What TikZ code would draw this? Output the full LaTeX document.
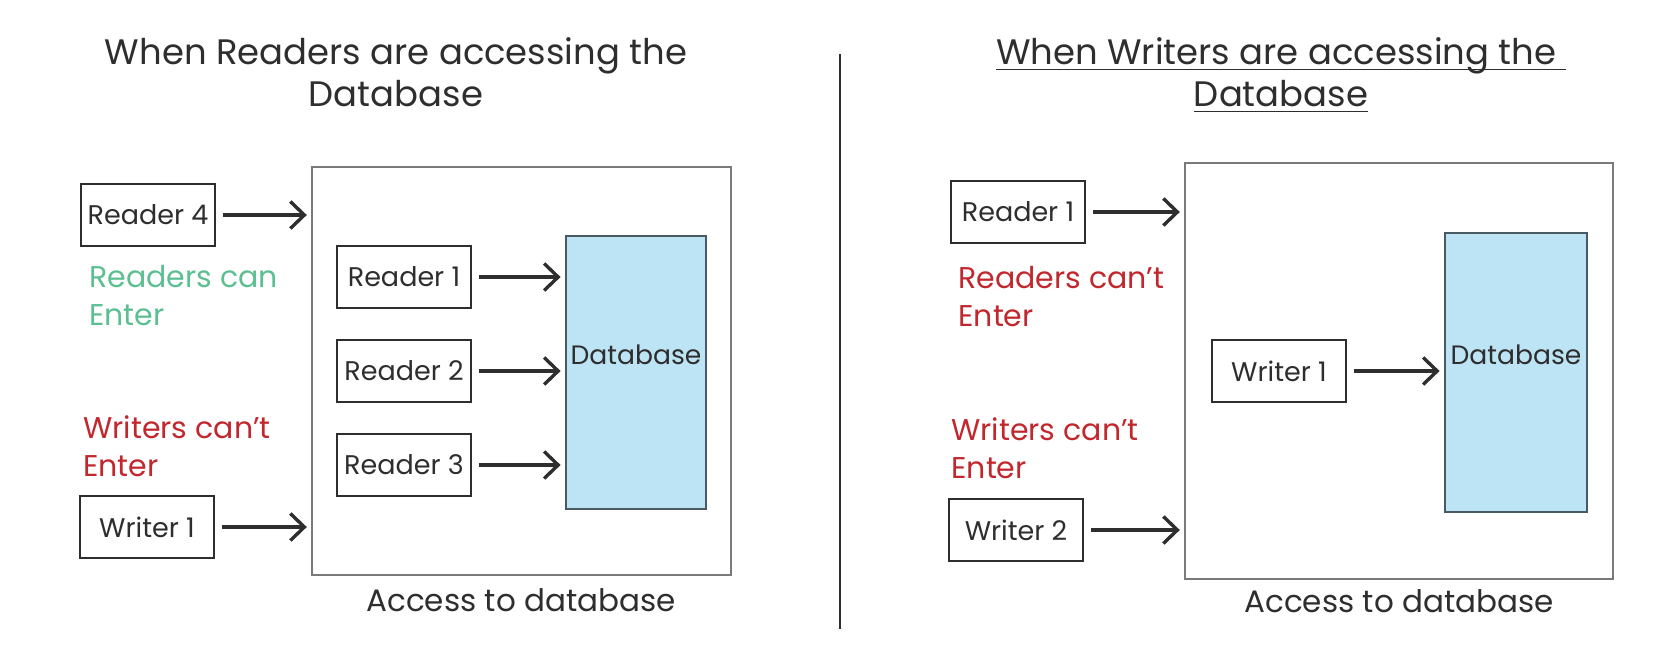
\documentclass[tikz,border=0pt]{standalone}
\usepackage{fontspec}
\setmainfont{Poppins}
\usetikzlibrary{arrows.meta}
\definecolor{ink}{HTML}{2E2E2E}
\definecolor{okgreen}{HTML}{5CBF91}
\definecolor{nored}{HTML}{C1272D}
\definecolor{dbblue}{HTML}{BDE4F5}
\definecolor{dbedge}{HTML}{4A5A63}
\definecolor{rim}{HTML}{7A7A7A}
\newcommand{\lined}[1]{\vtop{\hbox{\raisebox{0pt}[\height][0pt]{#1}}\kern2pt\hrule height 0.8pt}}

\begin{document}
\begin{tikzpicture}[x=0.5pt,y=-0.5pt,
	every node/.style={text=ink},
	proc/.style={draw=ink,line width=1pt,minimum width=67pt,minimum height=31pt,inner sep=0pt,font=\fontsize{13.5}{16}\selectfont},
	room/.style={draw=rim,line width=0.8pt,inner sep=0pt},
	store/.style={draw=dbedge,line width=1pt,fill=dbblue,inner sep=0pt},
	dbtext/.style={font=\fontsize{13.3}{16}\selectfont,yshift=8.75pt},
	note/.style={align=left,anchor=west,inner sep=0pt,font=\fontsize{15}{19}\selectfont},
	head/.style={align=center,font=\fontsize{17.7}{21}\selectfont},
	caption/.style={font=\fontsize{15.5}{18}\selectfont},
	goin/.style={-{Straight Barb[length=7pt,width=13.5pt]},draw=ink,line width=1.7pt,shorten <=3.5pt,shorten >=2.2pt}]
	\useasboundingbox (0,0) rectangle (1666,666);
	% readers side
	\node[head] (headL) at (396,72) {When Readers are accessing the\\Database};
	\node[room,minimum width=209.5pt,minimum height=204pt] (roomL) at (521.5,371) {};
	\node[proc] (r4) at (148,215) {Reader 4};
	\node[note,text=okgreen] (canL) at (89,296) {Readers can\\Enter};
	\node[note,text=nored] (cantL) at (83,446) {Writers can't\\Enter};
	\node[proc] (w1) at (147,527) {Writer 1};
	\node[proc] (r1) at (404,277) {Reader 1};
	\node[proc] (r2) at (404,371) {Reader 2};
	\node[proc] (r3) at (404,465) {Reader 3};
	\node[store,minimum width=70pt,minimum height=136.5pt,label={[dbtext]center:Database}] (dbL) at (636,372.5) {};
	\node[caption] (accL) at (521,600) {Access to database};
	\draw[goin] (r4) -- (r4 -| roomL.west);
	\draw[goin] (w1) -- (w1 -| roomL.west);
	\foreach \r in {r1,r2,r3}
		\draw[goin] (\r) -- (\r -| dbL.west);
	% divider
	\draw[ink,line width=0.7pt] (840,54) -- (840,629);
	% writers side
	\node[head] (headR) at (1281,75) {\lined{When Writers are accessing the\ }\\\lined{Database}};
	\node[room,minimum width=214pt,minimum height=208pt] (roomR) at (1399,371) {};
	\node[proc] (rr1) at (1018,212) {Reader 1};
	\node[note,text=nored] (cantR1) at (958,297) {Readers can't\\Enter};
	\node[note,text=nored] (cantR2) at (951,448) {Writers can't\\Enter};
	\node[proc] (w2) at (1016,530) {Writer 2};
	\node[proc] (ww1) at (1279,371) {Writer 1};
	\node[store,minimum width=71pt,minimum height=139.5pt,label={[dbtext]center:Database}] (dbR) at (1516,372.5) {};
	\node[caption] (accR) at (1399,601) {Access to database};
	\draw[goin] (rr1) -- (rr1 -| roomR.west);
	\draw[goin] (w2) -- (w2 -| roomR.west);
	\draw[goin] (ww1) -- (ww1 -| dbR.west);
\end{tikzpicture}
\end{document}
